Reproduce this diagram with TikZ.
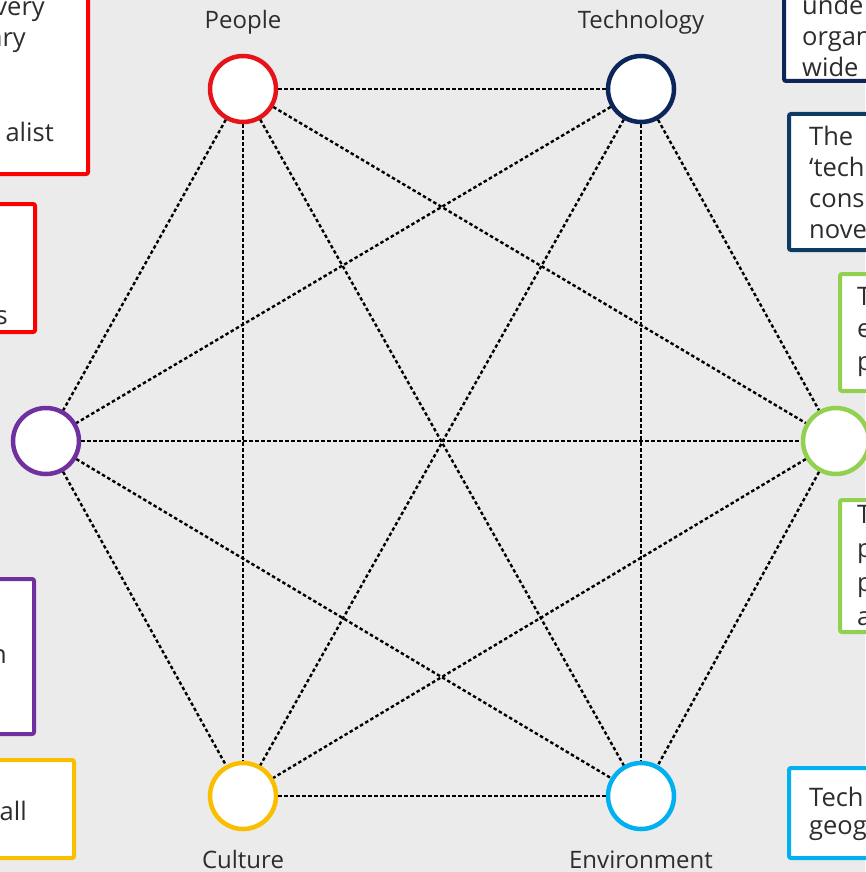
\documentclass[tikz,border=0pt]{standalone}
\usepackage{fontspec}
\setmainfont{Open Sans}
\definecolor{bgcol}{RGB}{235,235,235}
\definecolor{txt}{RGB}{45,45,45}
\definecolor{cpeople}{RGB}{230,20,25}
\definecolor{ctech}{RGB}{12,38,92}
\definecolor{cteal}{RGB}{12,60,100}
\definecolor{cpurple}{RGB}{112,48,160}
\definecolor{cgreen}{RGB}{146,208,80}
\definecolor{cyellow}{RGB}{250,190,0}
\definecolor{ccyan}{RGB}{0,176,240}
\definecolor{cred}{RGB}{255,0,0}
\tikzset{
  hub/.style={circle, draw=#1, line width=4.5pt, fill=white, minimum size=66pt, inner sep=0pt},
  link/.style={line width=2.4pt, dash pattern=on 3.5pt off 2.5pt, black},
  panel/.style={draw=#1, line width=4pt, fill=white, rounded corners=2pt},
  boxtext/.style={font=\fontsize{25.5}{31}\selectfont, text=txt, inner sep=0pt},
  hublabel/.style={font=\fontsize{24}{28}\selectfont, text=txt, inner sep=0pt, anchor=base}
}
\begin{document}
\begin{tikzpicture}[x=1pt, y=-1pt]
  \fill[bgcol] (0,0) rectangle (865,872);
  \useasboundingbox (0,0) rectangle (865,872);

  % side panels
  \draw[panel=cred] (-10,-10) rectangle (88,174);
  \draw[panel=cred] (-10,204) rectangle (35,332);
  \draw[panel=cpurple] (-10,579) rectangle (34,734);
  \draw[panel=cyellow] (-10,760) rectangle (74,858);
  \draw[panel=ctech] (784,-10) rectangle (885,81);
  \draw[panel=cteal] (789,114) rectangle (885,250);
  \draw[panel=cgreen] (840,274) rectangle (885,391);
  \draw[panel=cgreen] (840,500) rectangle (885,632);
  \draw[panel=ccyan] (789,768) rectangle (885,858);

  % panel texts, left side
  \node[boxtext, anchor=base east] (l1a) at (45,16) {very};
  \node[boxtext, anchor=base east] (l1b) at (26,47) {ary};
  \node[boxtext, anchor=base east] (l1c) at (54,141) {alist};
  \node[boxtext, anchor=base east] (l2a) at (8,324) {s};
  \node[boxtext, anchor=base east] (l3a) at (7,663) {n};
  \node[boxtext, anchor=base east] (l4a) at (27,820) {all};

  % panel texts, right side
  \node[boxtext, anchor=base west] (r1a) at (802,15) {unde};
  \node[boxtext, anchor=base west] (r1b) at (802,46) {organ};
  \node[boxtext, anchor=base west] (r1c) at (802,77) {wide};
  \node[boxtext, anchor=base west] (r2a) at (809,145) {The};
  \node[boxtext, anchor=base west] (r2b) at (809,176) {‘tech};
  \node[boxtext, anchor=base west] (r2c) at (809,207) {cons};
  \node[boxtext, anchor=base west] (r2d) at (809,238) {nove};
  \node[boxtext, anchor=base west] (r3a) at (857,305) {T};
  \node[boxtext, anchor=base west] (r3b) at (857,337) {e};
  \node[boxtext, anchor=base west] (r3c) at (857,370) {p};
  \node[boxtext, anchor=base west] (r4a) at (857,523) {T};
  \node[boxtext, anchor=base west] (r4b) at (857,557) {p};
  \node[boxtext, anchor=base west] (r4c) at (857,591) {p};
  \node[boxtext, anchor=base west] (r4d) at (857,625) {a};
  \node[boxtext, anchor=base west] (r5a) at (809,806) {Tech};
  \node[boxtext, anchor=base west] (r5b) at (809,834) {geog};

  % the six hubs
  \node[hub=cpeople] (people) at (243,89) {};
  \node[hub=ctech] (tech) at (641,89) {};
  \node[hub=cpurple] (west) at (46,441) {};
  \node[hub=cgreen] (east) at (836,441) {};
  \node[hub=cyellow] (culture) at (243,796) {};
  \node[hub=ccyan] (env) at (641,796) {};

  \node[hublabel] (lpeople) at (243,29) {People};
  \node[hublabel] (ltech) at (641,29) {Technology};
  \node[hublabel] (lculture) at (243,868) {Culture};
  \node[hublabel] (lenv) at (641,868) {Environment};

  % every hub linked to every other hub
  \foreach \a/\b in {people/tech, people/west, people/east, people/culture, people/env,
                     tech/west, tech/east, tech/culture, tech/env,
                     west/east, west/culture, west/env,
                     east/culture, east/env,
                     culture/env}
    \draw[link] (\a) -- (\b);
\end{tikzpicture}
\end{document}
